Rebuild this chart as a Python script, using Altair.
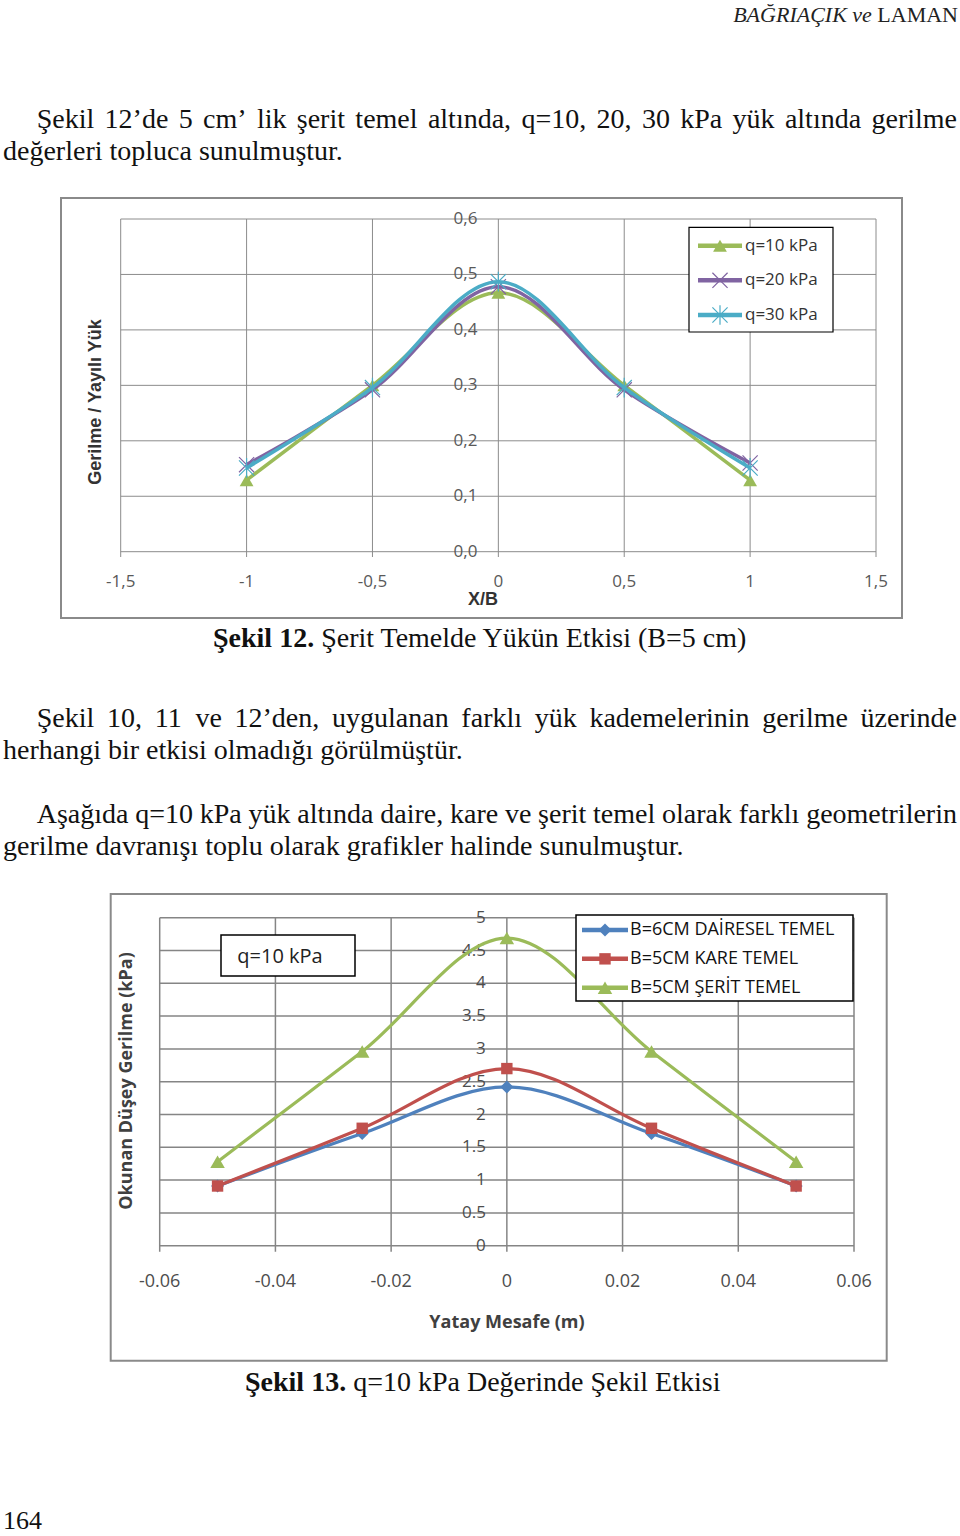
import altair as alt
import pandas as pd

# ---------------- page text ----------------
header_italic = "BAĞRIAÇIK ve"
header_roman = "LAMAN"
para_lines = [
    "Şekil 12’de 5 cm’ lik şerit temel altında, q=10, 20, 30 kPa yük altında gerilme",
    "değerleri topluca sunulmuştur.",
    "Şekil 10, 11 ve 12’den, uygulanan farklı yük kademelerinin gerilme üzerinde",
    "herhangi bir etkisi olmadığı görülmüştür.",
    "Aşağıda q=10 kPa yük altında daire, kare ve şerit temel olarak farklı geometrilerin",
    "gerilme davranışı toplu olarak grafikler halinde sunulmuştur.",
]
para_justified = [True, False, True, False, True, False]
caption1_bold = "Şekil 12."
caption1_text = "Şerit Temelde Yükün Etkisi (B=5 cm)"
caption2_bold = "Şekil 13."
caption2_text = "q=10 kPa Değerinde Şekil Etkisi"
page_number = "164"

# ---------------- chart 1 (Şekil 12) ----------------
c1_x = [-1.0, -0.5, 0.0, 0.5, 1.0]
c1_q10 = [0.129, 0.300, 0.467, 0.300, 0.129]
c1_q20 = [0.157, 0.292, 0.478, 0.292, 0.160]
c1_q30 = [0.151, 0.296, 0.487, 0.296, 0.151]
c1_series = ["q=10 kPa", "q=20 kPa", "q=30 kPa"]
c1_xticks = [-1.5, -1.0, -0.5, 0.0, 0.5, 1.0, 1.5]
c1_xlabels = ["-1,5", "-1", "-0,5", "0", "0,5", "1", "1,5"]
c1_yticks = [0.0, 0.1, 0.2, 0.3, 0.4, 0.5, 0.6]
c1_ylabels = ["0,0", "0,1", "0,2", "0,3", "0,4", "0,5", "0,6"]
c1_xtitle = "X/B"
c1_ytitle = "Gerilme / Yayılı Yük"

# ---------------- chart 2 (Şekil 13) ----------------
c2_x = [-0.05, -0.025, 0.0, 0.025, 0.05]
c2_daire = [0.91, 1.71, 2.42, 1.71, 0.91]
c2_kare = [0.91, 1.79, 2.70, 1.79, 0.91]
c2_serit = [1.28, 2.96, 4.69, 2.96, 1.28]
c2_series = ["B=6CM DAİRESEL  TEMEL", "B=5CM KARE TEMEL", "B=5CM ŞERİT  TEMEL"]
c2_xticks = [-0.06, -0.04, -0.02, 0.0, 0.02, 0.04, 0.06]
c2_xlabels = ["-0.06", "-0.04", "-0.02", "0", "0.02", "0.04", "0.06"]
c2_yticks = [0, 0.5, 1, 1.5, 2, 2.5, 3, 3.5, 4, 4.5, 5]
c2_ylabels = ["0", "0.5", "1", "1.5", "2", "2.5", "3", "3.5", "4", "4.5", "5"]
c2_xtitle = "Yatay Mesafe (m)"
c2_ytitle = "Okunan Düşey Gerilme (kPa)"
c2_note = "q=10 kPa"

# ---------------- styles / layout ----------------
SERIF = "Liberation Serif"
SANS = "Open Sans"
ARIAL = "Liberation Sans"
FS = 28
GREEN, PURPLE, CYAN = "#9BBB59", "#8064A2", "#4BACC6"
BLUE, RED = "#4F81BD", "#C0504D"
X_PATH = "M-1,-1L1,1M-1,1L1,-1"
STAR_PATH = "M-1,-1L1,1M-1,1L1,-1M0,-1.3L0,1.3"

# Times-compatible advance widths (1/1000 em) for text layout
TR = {' ': 250, '’': 333, ',': 250, '.': 250, '=': 564, '(': 333, ')': 333, '-': 333,
      'A': 722, 'B': 667, 'C': 667, 'D': 722, 'E': 611, 'F': 556, 'G': 722, 'H': 722, 'I': 333,
      'J': 389, 'K': 722, 'L': 611, 'M': 889, 'N': 722, 'O': 722, 'P': 556, 'Q': 722, 'R': 667,
      'S': 556, 'T': 611, 'U': 722, 'V': 722, 'W': 944, 'X': 722, 'Y': 722, 'Z': 611,
      'a': 444, 'b': 500, 'c': 444, 'd': 500, 'e': 444, 'f': 333, 'g': 500, 'h': 500, 'i': 278,
      'j': 278, 'k': 500, 'l': 278, 'm': 778, 'n': 500, 'o': 500, 'p': 500, 'q': 500, 'r': 333,
      's': 389, 't': 278, 'u': 500, 'v': 500, 'w': 722, 'x': 500, 'y': 500, 'z': 444,
      'ş': 389, 'Ş': 556, 'ı': 278, 'İ': 333, 'ğ': 500, 'Ğ': 722, 'ü': 500, 'Ü': 722,
      'ö': 500, 'Ö': 722, 'ç': 444, 'Ç': 667}
TB = {'Ş': 556, 'e': 444, 'k': 556, 'i': 278, 'l': 278, ' ': 250, '.': 250}


def tw(s, table, fs):
    return sum(table.get(c, 500) for c in s) * fs / 1000.0


line_baselines = [128.3, 160.0, 727.0, 759.0, 823.0, 855.0]
line_left = [36.7, 3.0, 36.7, 3.0, 36.7, 3.0]
RIGHT = 957.0

body_rows = []
for text, jus, left, base in zip(para_lines, para_justified, line_left, line_baselines):
    words = text.split(' ')
    ws = [tw(w, TR, FS) for w in words]
    gap = (RIGHT - left - sum(ws)) / (len(words) - 1) if jus else 0.25 * FS
    x = left
    for w, wd in zip(words, ws):
        body_rows.append({'word': w, 'px': x, 'py': base})
        x += wd + gap

bold_rows = []
for bold, rest, x0, base in [(caption1_bold, caption1_text, 213.0, 646.5),
                             (caption2_bold, caption2_text, 245.0, 1391.0)]:
    bold_rows.append({'word': bold, 'px': x0, 'py': base})
    body_rows.append({'word': rest, 'px': x0 + tw(bold, TB, FS) + 0.25 * FS, 'py': base})

body_df = pd.DataFrame(body_rows)
bold_df = pd.DataFrame(bold_rows)

ONE = pd.DataFrame({'k': [0]})


def text_layer(df, **kw):
    return alt.Chart(df).mark_text(align='left', baseline='alphabetic', **kw).encode(
        x=alt.X('px:Q', scale=None, axis=None),
        y=alt.Y('py:Q', scale=None, axis=None),
        text='word:N')


def box(x1, x2, y1, y2, stroke, sw, fill='white'):
    return alt.Chart(ONE).mark_rect(fill=fill, stroke=stroke, strokeWidth=sw).encode(
        x=alt.value(x1), x2=alt.value(x2), y=alt.value(y1), y2=alt.value(y2))


def label(text, x, y, angle=0, align='center', baseline='middle', **kw):
    return alt.Chart(ONE).mark_text(text=text, angle=angle, align=align,
                                    baseline=baseline, **kw).encode(x=alt.value(x), y=alt.value(y))


def series_layers(xs, vs, xsc, ysc, color, lw, shape, size, filled, psw):
    df = pd.DataFrame({'x': xs, 'v': vs})
    enc = dict(x=alt.X('x:Q', scale=xsc, axis=None), y=alt.Y('v:Q', scale=ysc, axis=None))
    line = alt.Chart(df).mark_line(color=color, strokeWidth=lw, interpolate='catmull-rom').encode(**enc)
    pts = alt.Chart(df).mark_point(shape=shape, size=size, filled=filled, color=color,
                                   strokeWidth=psw, opacity=1).encode(**enc)
    return line, pts


def legend_entry(name, lsc, x1, x2, xm, xt, color, lw, shape, size, filled, psw, font, fs, tcolor):
    df = pd.DataFrame({'series': [name]})
    y = alt.Y('series:N', scale=lsc, axis=None)
    ln = alt.Chart(df).mark_rule(color=color, strokeWidth=lw).encode(x=alt.value(x1), x2=alt.value(x2), y=y)
    pt = alt.Chart(df).mark_point(shape=shape, size=size, filled=filled, color=color,
                                  strokeWidth=psw, opacity=1).encode(x=alt.value(xm), y=y)
    tx = alt.Chart(df).mark_text(align='left', baseline='middle', font=font, fontSize=fs,
                                 color=tcolor).encode(x=alt.value(xt), y=y, text='series:N')
    return [ln, pt, tx]


# scales mapping each chart into its place on the page
X1 = alt.Scale(domain=[-1.5, 1.5], range=[120.7, 876.0], nice=False, zero=False)
Y1 = alt.Scale(domain=[0.0, 0.6], range=[551.7, 219.0], nice=False, zero=False)
L1 = alt.Scale(type='point', domain=c1_series, range=[245.7, 315.0], padding=0)
X2 = alt.Scale(domain=[-0.06, 0.06], range=[159.7, 854.0], nice=False, zero=False)
Y2 = alt.Scale(domain=[0, 5], range=[1245.7, 917.7], nice=False, zero=False)
L2 = alt.Scale(type='point', domain=c2_series, range=[930.0, 987.7], padding=0)

layers = []

# ---- page text ----
layers.append(text_layer(body_df, font=SERIF, fontSize=FS, color='#111111'))
layers.append(text_layer(bold_df, font=SERIF, fontSize=FS, fontWeight='bold', color='#111111'))
layers.append(label(page_number, 3, 1529, font=SERIF, fontSize=26, color='#111111',
                    align='left', baseline='alphabetic'))
HFS = 22
laman_w = tw(header_roman, TR, HFS)
layers.append(label(header_roman, 958, 22, font=SERIF, fontSize=HFS, color='#222222',
                    align='right', baseline='alphabetic'))
layers.append(label(header_italic, 958 - laman_w - 0.25 * HFS, 22, font=SERIF, fontSize=HFS,
                    fontStyle='italic', color='#222222', align='right', baseline='alphabetic'))

# ---- chart 1 ----
GRID1 = '#8c8c8c'
layers.append(box(61, 902, 198, 618, '#8a8a8a', 2))
layers.append(alt.Chart(pd.DataFrame({'t': c1_xticks})).mark_rule(color=GRID1, strokeWidth=1).encode(
    x=alt.X('t:Q', scale=X1, axis=None), y=alt.value(219.0), y2=alt.value(557.0)))
layers.append(alt.Chart(pd.DataFrame({'t': c1_yticks})).mark_rule(color=GRID1, strokeWidth=1).encode(
    y=alt.Y('t:Q', scale=Y1, axis=None), x=alt.value(120.7), x2=alt.value(876.0)))
layers.append(alt.Chart(pd.DataFrame({'t': c1_yticks, 'lab': c1_ylabels, 'z': 0.0})).mark_text(
    align='right', baseline='middle', dx=-21, font=SANS, fontSize=17, color='#595959').encode(
    y=alt.Y('t:Q', scale=Y1, axis=None), x=alt.X('z:Q', scale=X1, axis=None), text='lab:N'))
layers.append(alt.Chart(pd.DataFrame({'t': c1_xticks, 'lab': c1_xlabels})).mark_text(
    align='center', baseline='middle', font=SANS, fontSize=17, color='#595959').encode(
    x=alt.X('t:Q', scale=X1, axis=None), y=alt.value(582.0), text='lab:N'))
layers.append(label(c1_xtitle, 483, 600, font=ARIAL, fontSize=18, fontWeight='bold', color='#333333'))
layers.append(label(c1_ytitle, 96, 402, angle=270, font=ARIAL, fontSize=18, fontWeight='bold',
                    color='#333333'))

c1_specs = [
    (c1_q10, GREEN, 'triangle-up', 190, True, 1),
    (c1_q20, PURPLE, X_PATH, 230, False, 1.2),
    (c1_q30, CYAN, STAR_PATH, 230, False, 1.2),
]
for vals, col, shp, sz, fil, psw in c1_specs:
    layers.extend(series_layers(c1_x, vals, X1, Y1, col, 3.5, shp, sz, fil, psw))

layers.append(box(689, 833, 227.3, 332, '#000000', 1.2))
for name, (vals, col, shp, sz, fil, psw) in zip(c1_series, c1_specs):
    layers.extend(legend_entry(name, L1, 698, 742, 720, 745, col, 4.5, shp, sz, fil, psw,
                               SANS, 17, '#333333'))

# ---- chart 2 ----
GRID2 = '#858585'
layers.append(box(110.7, 886.7, 894, 1360.7, '#8a8a8a', 2))
layers.append(alt.Chart(pd.DataFrame({'t': c2_xticks})).mark_rule(color=GRID2, strokeWidth=1.5).encode(
    x=alt.X('t:Q', scale=X2, axis=None), y=alt.value(917.7), y2=alt.value(1251.7)))
layers.append(alt.Chart(pd.DataFrame({'t': c2_yticks})).mark_rule(color=GRID2, strokeWidth=1.5).encode(
    y=alt.Y('t:Q', scale=Y2, axis=None), x=alt.value(159.7), x2=alt.value(854.0)))
layers.append(alt.Chart(pd.DataFrame({'t': c2_yticks, 'lab': c2_ylabels, 'z': 0.0})).mark_text(
    align='right', baseline='middle', dx=-21, font=SANS, fontSize=17, color='#4d4d4d').encode(
    y=alt.Y('t:Q', scale=Y2, axis=None), x=alt.X('z:Q', scale=X2, axis=None), text='lab:N'))
layers.append(alt.Chart(pd.DataFrame({'t': c2_xticks, 'lab': c2_xlabels})).mark_text(
    align='center', baseline='middle', font=SANS, fontSize=18, color='#4d4d4d').encode(
    x=alt.X('t:Q', scale=X2, axis=None), y=alt.value(1281.7), text='lab:N'))
layers.append(label(c2_xtitle, 507, 1323, font=SANS, fontSize=18, fontWeight='bold', color='#404040'))
layers.append(label(c2_ytitle, 127, 1081, angle=270, font=SANS, fontSize=18, fontWeight='bold',
                    color='#404040'))

layers.append(box(221, 355, 935, 976, '#000000', 1.5))
layers.append(label(c2_note, 280, 957, font=SANS, fontSize=20, color='#222222'))

c2_specs = [
    (c2_daire, BLUE, 'diamond', 170, True, 1),
    (c2_kare, RED, 'square', 130, True, 1),
    (c2_serit, GREEN, 'triangle-up', 210, True, 1),
]
for vals, col, shp, sz, fil, psw in c2_specs:
    layers.extend(series_layers(c2_x, vals, X2, Y2, col, 3.2, shp, sz, fil, psw))

layers.append(box(576, 853, 915, 1001, '#000000', 1.5))
for name, (vals, col, shp, sz, fil, psw) in zip(c2_series, c2_specs):
    layers.extend(legend_entry(name, L2, 582, 628, 605, 630, col, 4.5, shp, sz, fil, psw,
                               SANS, 18, '#111111'))

chart = alt.layer(*layers).resolve_scale(
    x='independent', y='independent'
).properties(
    width=960, height=1536, padding=0, background='white',
    autosize=alt.AutoSizeParams(type='none')
).configure_view(stroke=None)

chart.save("out.html", embed_options={"renderer": "svg", "actions": False})
